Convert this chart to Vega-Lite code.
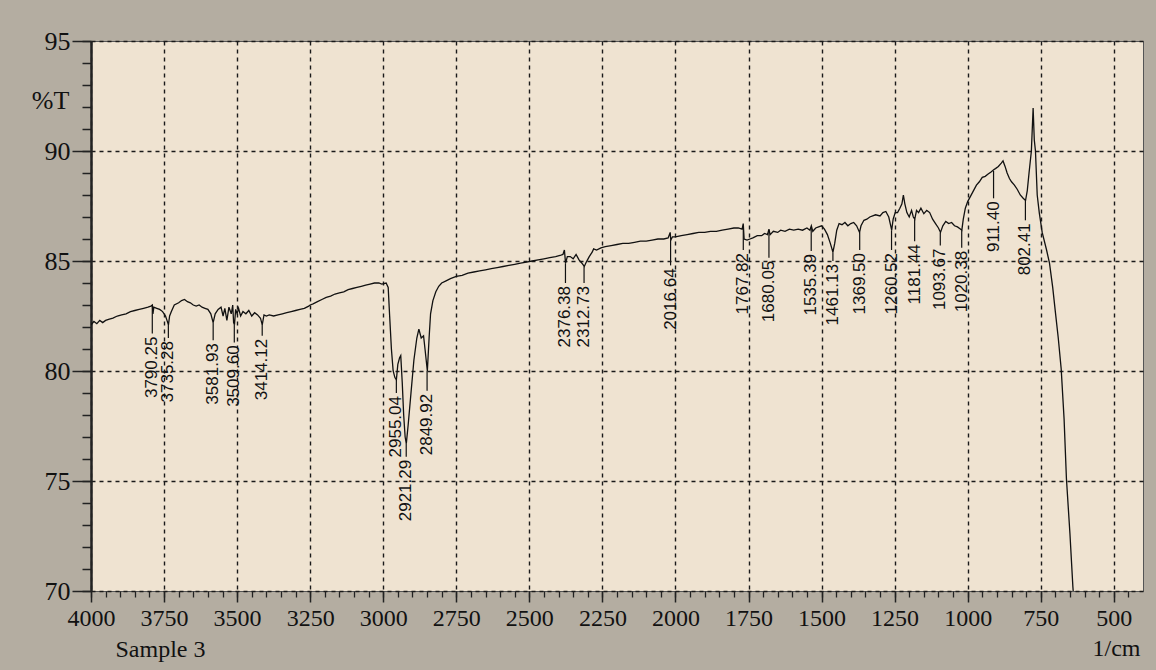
{
  "$schema": "https://vega.github.io/schema/vega-lite/v6.json",
  "width": 1052,
  "height": 550,
  "autosize": {"type": "none"},
  "padding": {"left": 91, "top": 41, "right": 13, "bottom": 79},
  "background": "#b4ada1",
  "config": {
    "view": {"fill": "#efe3d1", "stroke": "#555555", "strokeWidth": 1},
    "axis": {"labelFont": "Liberation Serif", "titleFont": "Liberation Serif", "labelColor": "#111111", "titleColor": "#111111", "titleFontWeight": "normal"}
  },
  "datasets": {
    "spec": [
      {"wn":4000,"T":82.1},{"wn":3990,"T":82.25},{"wn":3980,"T":82.15},{"wn":3970,"T":82.3},{"wn":3960,"T":82.2},{"wn":3950,"T":82.3},{"wn":3940,"T":82.35},{"wn":3925,"T":82.4},{"wn":3910,"T":82.5},{"wn":3895,"T":82.55},{"wn":3880,"T":82.6},{"wn":3865,"T":82.7},{"wn":3850,"T":82.75},{"wn":3835,"T":82.8},{"wn":3820,"T":82.85},{"wn":3805,"T":82.9},{"wn":3795,"T":82.95},{"wn":3790,"T":83.0},{"wn":3788,"T":82.6},{"wn":3785,"T":82.9},{"wn":3775,"T":82.85},{"wn":3765,"T":82.8},{"wn":3755,"T":82.7},{"wn":3745,"T":82.5},{"wn":3740,"T":82.3},{"wn":3735,"T":82.1},{"wn":3731,"T":82.5},{"wn":3725,"T":82.7},{"wn":3715,"T":83.0},{"wn":3700,"T":83.1},{"wn":3690,"T":83.2},{"wn":3680,"T":83.25},{"wn":3670,"T":83.15},{"wn":3660,"T":83.1},{"wn":3650,"T":83.0},{"wn":3640,"T":82.95},{"wn":3630,"T":83.0},{"wn":3620,"T":82.9},{"wn":3610,"T":82.85},{"wn":3600,"T":82.8},{"wn":3590,"T":82.6},{"wn":3582,"T":82.2},{"wn":3575,"T":82.6},{"wn":3565,"T":82.8},{"wn":3555,"T":82.9},{"wn":3548,"T":82.5},{"wn":3542,"T":82.85},{"wn":3535,"T":82.3},{"wn":3528,"T":82.9},{"wn":3520,"T":82.6},{"wn":3515,"T":83.0},{"wn":3512,"T":82.2},{"wn":3509,"T":82.1},{"wn":3505,"T":82.8},{"wn":3500,"T":82.6},{"wn":3495,"T":82.85},{"wn":3488,"T":82.5},{"wn":3480,"T":82.7},{"wn":3470,"T":82.6},{"wn":3460,"T":82.75},{"wn":3450,"T":82.5},{"wn":3440,"T":82.65},{"wn":3430,"T":82.55},{"wn":3420,"T":82.4},{"wn":3414,"T":82.1},{"wn":3408,"T":82.55},{"wn":3400,"T":82.5},{"wn":3390,"T":82.55},{"wn":3375,"T":82.5},{"wn":3360,"T":82.55},{"wn":3345,"T":82.6},{"wn":3330,"T":82.65},{"wn":3315,"T":82.7},{"wn":3300,"T":82.75},{"wn":3285,"T":82.8},{"wn":3270,"T":82.85},{"wn":3255,"T":82.95},{"wn":3250,"T":83.0},{"wn":3240,"T":83.05},{"wn":3225,"T":83.15},{"wn":3210,"T":83.25},{"wn":3195,"T":83.35},{"wn":3180,"T":83.4},{"wn":3165,"T":83.5},{"wn":3150,"T":83.55},{"wn":3135,"T":83.6},{"wn":3120,"T":83.7},{"wn":3105,"T":83.75},{"wn":3090,"T":83.8},{"wn":3075,"T":83.85},{"wn":3060,"T":83.9},{"wn":3045,"T":83.95},{"wn":3030,"T":84.0},{"wn":3015,"T":84.0},{"wn":3005,"T":83.95},{"wn":2990,"T":84.0},{"wn":2983,"T":83.8},{"wn":2978,"T":82.5},{"wn":2972,"T":81.0},{"wn":2966,"T":80.0},{"wn":2960,"T":79.7},{"wn":2955,"T":79.6},{"wn":2950,"T":80.3},{"wn":2944,"T":80.6},{"wn":2940,"T":80.7},{"wn":2935,"T":79.5},{"wn":2930,"T":78.0},{"wn":2925,"T":77.0},{"wn":2921,"T":76.7},{"wn":2915,"T":77.5},{"wn":2905,"T":79.0},{"wn":2895,"T":80.5},{"wn":2885,"T":81.5},{"wn":2878,"T":81.9},{"wn":2870,"T":81.5},{"wn":2862,"T":81.6},{"wn":2857,"T":81.0},{"wn":2849,"T":80.0},{"wn":2843,"T":81.5},{"wn":2838,"T":82.6},{"wn":2830,"T":83.2},{"wn":2820,"T":83.6},{"wn":2810,"T":83.85},{"wn":2800,"T":84.0},{"wn":2785,"T":84.1},{"wn":2770,"T":84.2},{"wn":2750,"T":84.3},{"wn":2730,"T":84.35},{"wn":2710,"T":84.45},{"wn":2690,"T":84.5},{"wn":2670,"T":84.55},{"wn":2650,"T":84.6},{"wn":2630,"T":84.65},{"wn":2610,"T":84.7},{"wn":2590,"T":84.75},{"wn":2570,"T":84.8},{"wn":2550,"T":84.85},{"wn":2530,"T":84.9},{"wn":2510,"T":84.95},{"wn":2490,"T":85.0},{"wn":2470,"T":85.05},{"wn":2450,"T":85.1},{"wn":2430,"T":85.15},{"wn":2410,"T":85.2},{"wn":2395,"T":85.25},{"wn":2385,"T":85.3},{"wn":2380,"T":85.5},{"wn":2376,"T":84.9},{"wn":2370,"T":85.2},{"wn":2360,"T":85.2},{"wn":2350,"T":85.1},{"wn":2340,"T":85.3},{"wn":2330,"T":85.05},{"wn":2320,"T":84.9},{"wn":2312,"T":84.75},{"wn":2305,"T":84.95},{"wn":2295,"T":85.2},{"wn":2285,"T":85.4},{"wn":2280,"T":85.55},{"wn":2270,"T":85.5},{"wn":2255,"T":85.6},{"wn":2240,"T":85.65},{"wn":2220,"T":85.7},{"wn":2200,"T":85.75},{"wn":2180,"T":85.8},{"wn":2160,"T":85.8},{"wn":2140,"T":85.85},{"wn":2120,"T":85.9},{"wn":2100,"T":85.9},{"wn":2080,"T":85.95},{"wn":2060,"T":86.0},{"wn":2040,"T":86.0},{"wn":2025,"T":86.05},{"wn":2018,"T":86.3},{"wn":2016,"T":85.95},{"wn":2010,"T":86.1},{"wn":2000,"T":86.1},{"wn":1980,"T":86.15},{"wn":1960,"T":86.2},{"wn":1940,"T":86.25},{"wn":1920,"T":86.3},{"wn":1900,"T":86.3},{"wn":1880,"T":86.35},{"wn":1860,"T":86.35},{"wn":1840,"T":86.4},{"wn":1820,"T":86.45},{"wn":1800,"T":86.5},{"wn":1785,"T":86.5},{"wn":1772,"T":86.45},{"wn":1768,"T":86.7},{"wn":1765,"T":86.0},{"wn":1755,"T":85.95},{"wn":1745,"T":86.0},{"wn":1735,"T":86.05},{"wn":1720,"T":86.15},{"wn":1705,"T":86.15},{"wn":1695,"T":86.25},{"wn":1685,"T":86.2},{"wn":1680,"T":86.45},{"wn":1676,"T":86.2},{"wn":1665,"T":86.35},{"wn":1650,"T":86.3},{"wn":1640,"T":86.4},{"wn":1625,"T":86.35},{"wn":1610,"T":86.45},{"wn":1595,"T":86.4},{"wn":1580,"T":86.45},{"wn":1565,"T":86.4},{"wn":1550,"T":86.5},{"wn":1540,"T":86.4},{"wn":1535,"T":86.6},{"wn":1530,"T":86.35},{"wn":1520,"T":86.5},{"wn":1510,"T":86.55},{"wn":1500,"T":86.6},{"wn":1490,"T":86.45},{"wn":1480,"T":86.2},{"wn":1470,"T":85.8},{"wn":1461,"T":85.4},{"wn":1455,"T":85.8},{"wn":1448,"T":86.4},{"wn":1440,"T":86.7},{"wn":1430,"T":86.65},{"wn":1420,"T":86.75},{"wn":1410,"T":86.6},{"wn":1400,"T":86.7},{"wn":1390,"T":86.75},{"wn":1380,"T":86.6},{"wn":1370,"T":86.3},{"wn":1365,"T":86.6},{"wn":1355,"T":86.85},{"wn":1345,"T":86.9},{"wn":1335,"T":87.0},{"wn":1325,"T":87.05},{"wn":1315,"T":87.1},{"wn":1300,"T":87.05},{"wn":1290,"T":87.2},{"wn":1280,"T":87.25},{"wn":1270,"T":87.0},{"wn":1265,"T":86.7},{"wn":1260,"T":86.4},{"wn":1255,"T":86.9},{"wn":1248,"T":87.2},{"wn":1240,"T":87.2},{"wn":1232,"T":87.4},{"wn":1225,"T":87.6},{"wn":1220,"T":88.0},{"wn":1215,"T":87.6},{"wn":1208,"T":87.2},{"wn":1200,"T":87.0},{"wn":1192,"T":87.3},{"wn":1186,"T":87.0},{"wn":1181,"T":86.9},{"wn":1175,"T":87.3},{"wn":1168,"T":87.2},{"wn":1160,"T":87.4},{"wn":1150,"T":87.15},{"wn":1140,"T":87.3},{"wn":1130,"T":87.2},{"wn":1120,"T":86.9},{"wn":1110,"T":86.7},{"wn":1100,"T":86.5},{"wn":1093,"T":86.3},{"wn":1085,"T":86.6},{"wn":1075,"T":86.8},{"wn":1065,"T":86.7},{"wn":1055,"T":86.75},{"wn":1045,"T":86.6},{"wn":1035,"T":86.55},{"wn":1025,"T":86.45},{"wn":1020,"T":86.4},{"wn":1015,"T":86.9},{"wn":1008,"T":87.4},{"wn":1000,"T":87.7},{"wn":990,"T":87.95},{"wn":980,"T":88.2},{"wn":970,"T":88.45},{"wn":960,"T":88.6},{"wn":950,"T":88.8},{"wn":940,"T":88.85},{"wn":930,"T":88.95},{"wn":920,"T":89.05},{"wn":911,"T":89.15},{"wn":905,"T":89.2},{"wn":895,"T":89.3},{"wn":885,"T":89.45},{"wn":879,"T":89.55},{"wn":872,"T":89.3},{"wn":865,"T":89.0},{"wn":857,"T":88.75},{"wn":850,"T":88.6},{"wn":840,"T":88.45},{"wn":830,"T":88.25},{"wn":820,"T":88.0},{"wn":810,"T":87.85},{"wn":802,"T":87.75},{"wn":796,"T":88.2},{"wn":790,"T":89.0},{"wn":782,"T":90.0},{"wn":776,"T":91.95},{"wn":772,"T":90.5},{"wn":768,"T":90.0},{"wn":762,"T":88.0},{"wn":755,"T":87.2},{"wn":745,"T":86.3},{"wn":730,"T":85.5},{"wn":720,"T":84.9},{"wn":709,"T":83.8},{"wn":700,"T":82.7},{"wn":690,"T":81.5},{"wn":680,"T":80.1},{"wn":670,"T":77.8},{"wn":662,"T":75.1},{"wn":650,"T":72.6},{"wn":640,"T":70.2},{"wn":636,"T":69.5}
    ],
    "peaks": [
      {"wn":3790.25,"label":"3790.25","curveT":82.95,"topT":81.7},
      {"wn":3735.28,"label":"3735.28","curveT":82.1,"topT":81.5},
      {"wn":3581.93,"label":"3581.93","curveT":82.2,"topT":81.4},
      {"wn":3509.60,"label":"3509.60","curveT":82.1,"topT":81.3},
      {"wn":3414.12,"label":"3414.12","curveT":82.1,"topT":81.6},
      {"wn":2955.04,"label":"2955.04","curveT":79.6,"topT":79.0},
      {"wn":2921.29,"label":"2921.29","curveT":76.7,"topT":76.1},
      {"wn":2849.92,"label":"2849.92","curveT":80.0,"topT":79.1},
      {"wn":2376.38,"label":"2376.38","curveT":84.9,"topT":84.0},
      {"wn":2312.73,"label":"2312.73","curveT":84.75,"topT":84.0},
      {"wn":2016.64,"label":"2016.64","curveT":85.95,"topT":84.8},
      {"wn":1767.82,"label":"1767.82","curveT":86.5,"topT":85.5},
      {"wn":1680.05,"label":"1680.05","curveT":86.4,"topT":85.15},
      {"wn":1535.39,"label":"1535.39","curveT":86.5,"topT":85.45},
      {"wn":1461.13,"label":"1461.13","curveT":85.4,"topT":85.0},
      {"wn":1369.50,"label":"1369.50","curveT":86.3,"topT":85.5},
      {"wn":1260.52,"label":"1260.52","curveT":86.4,"topT":85.5},
      {"wn":1181.44,"label":"1181.44","curveT":86.9,"topT":85.9},
      {"wn":1093.67,"label":"1093.67","curveT":86.3,"topT":85.7},
      {"wn":1020.38,"label":"1020.38","curveT":86.4,"topT":85.6},
      {"wn":911.40,"label":"911.40","curveT":89.1,"topT":87.85},
      {"wn":802.41,"label":"802.41","curveT":87.75,"topT":86.85}
    ]
  },
  "resolve": {"axis": {"x": "independent", "y": "independent"}},
  "layer": [
    {
      "data": {"name": "spec"},
      "mark": {"type": "line", "color": "#111111", "strokeWidth": 1.3, "clip": true, "interpolate": "linear"},
      "encoding": {
        "x": {"field": "wn", "type": "quantitative", "sort": null,
          "scale": {"domain": [4000, 400], "nice": false, "zero": false},
          "axis": {"orient": "bottom", "values": [4000,3750,3500,3250,3000,2750,2500,2250,2000,1750,1500,1250,1000,750,500], "format": "d",
            "grid": true, "gridDash": [4,4], "gridColor": "#1a1a1a", "gridWidth": 1.4,
            "tickSize": 11, "tickColor": "#222222", "tickWidth": 1.5, "domain": false,
            "labelFontSize": 24, "labelPadding": 4, "labelFlush": false, "labelOverlap": false,
            "title": "Sample 3", "titleFontSize": 24, "titleX": 69, "titleY": 58, "titleAlign": "center", "titleBaseline": "middle", "titleAnchor": null}},
        "y": {"field": "T", "type": "quantitative",
          "scale": {"domain": [70, 95], "nice": false, "zero": false},
          "axis": {"orient": "left", "values": [70,75,80,85,90,95], "format": "d",
            "grid": true, "gridDash": [4,4], "gridColor": "#1a1a1a", "gridWidth": 1.4,
            "tickSize": 19, "tickColor": "#222222", "tickWidth": 1.5,
            "domain": true, "domainColor": "#222222", "domainWidth": 2.5,
            "labelFontSize": 26, "labelPadding": 2, "labelFlush": false, "labelOverlap": false,
            "title": "%T", "titleFontSize": 26, "titleAngle": 0, "titleX": -41, "titleY": 59, "titleAlign": "center", "titleBaseline": "middle", "titleAnchor": null}}
      }
    },
    {
      "data": {"name": "peaks"},
      "mark": {"type": "rule", "color": "#111111", "strokeWidth": 1.2},
      "encoding": {
        "x": {"field": "wn", "type": "quantitative",
          "scale": {"domain": [4000, 400], "nice": false, "zero": false},
          "axis": {"orient": "bottom", "values": [4000,3950,3900,3850,3800,3750,3700,3650,3600,3550,3500,3450,3400,3350,3300,3250,3200,3150,3100,3050,3000,2950,2900,2850,2800,2750,2700,2650,2600,2550,2500,2450,2400,2350,2300,2250,2200,2150,2100,2050,2000,1950,1900,1850,1800,1750,1700,1650,1600,1550,1500,1450,1400,1350,1300,1250,1200,1150,1100,1050,1000,950,900,850,800,750,700,650,600,550,500,450],
            "grid": false, "labels": false, "tickSize": 6, "tickColor": "#222222", "tickWidth": 1.3, "domain": false,
            "title": "1/cm", "titleFontSize": 24, "titleX": 1025, "titleY": 57, "titleAlign": "center", "titleBaseline": "middle", "titleAnchor": null}},
        "y": {"field": "curveT", "type": "quantitative",
          "scale": {"domain": [70, 95], "nice": false, "zero": false},
          "axis": {"orient": "left", "values": [70,71,72,73,74,75,76,77,78,79,80,81,82,83,84,85,86,87,88,89,90,91,92,93,94,95],
            "grid": false, "labels": false, "tickSize": 9, "tickColor": "#222222", "tickWidth": 1.5, "domain": false, "title": null}},
        "y2": {"field": "topT"}
      }
    },
    {
      "data": {"name": "peaks"},
      "mark": {"type": "text", "angle": 270, "align": "right", "baseline": "middle", "dx": -3, "font": "Liberation Sans", "fontSize": 17, "color": "#111111"},
      "encoding": {
        "x": {"field": "wn", "type": "quantitative", "scale": {"domain": [4000, 400], "nice": false, "zero": false}, "axis": null},
        "y": {"field": "topT", "type": "quantitative", "scale": {"domain": [70, 95], "nice": false, "zero": false}, "axis": null},
        "text": {"field": "label", "type": "nominal"}
      }
    }
  ]
}
